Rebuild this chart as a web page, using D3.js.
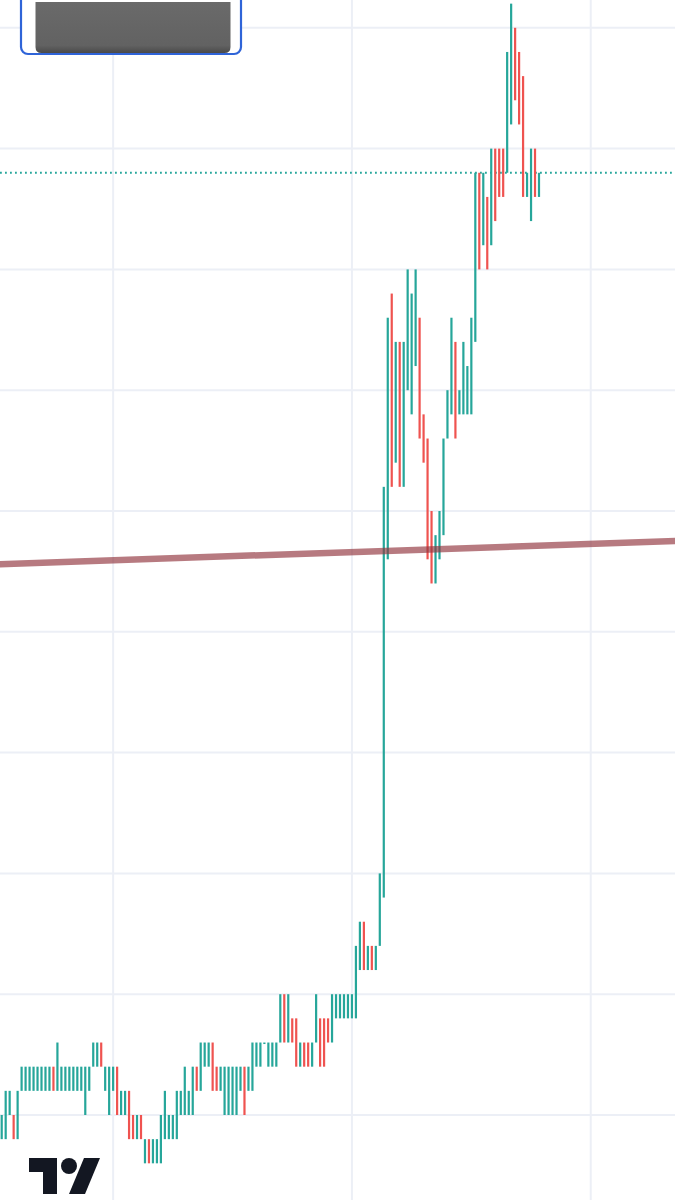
<!DOCTYPE html>
<html>
<head>
<meta charset="utf-8">
<script src="https://cdn.jsdelivr.net/npm/d3@7"></script>
<style>
  html, body { margin: 0; padding: 0; background: #ffffff; }
  svg { display: block; }
</style>
</head>
<body>
<script>
// ---- Data (price expressed in ticks; one grid step = 5 ticks) ----
const barIndex = d3.range(136);
const highs = [
  0,1,1,0,1,2,2,2,2,2,
  2,2,2,2,3,2,2,2,2,2,
  2,2,2,3,3,3,2,2,2,2,
  1,1,1,0,0,0,-1,-1,-1,-1,
  0,1,0,0,1,1,2,1,2,2,
  3,3,3,3,2,2,2,2,2,2,
  2,2,2,3,3,3,3,3,3,3,
  5,5,5,4,4,3,3,3,3,5,
  4,4,4,5,5,5,5,5,5,7,
  8,8,7,7,7,10,26,33,34,32,
  32,32,35,34,35,33,29,28,25,24,
  25,28,30,33,32,30,32,31,33,39,
  39,39,38,40,40,40,40,44,46,45,
  44,43,39,40,40,39
];
const lows = [
  -1,-1,0,-1,-1,1,1,1,1,1,
  1,1,1,1,1,1,1,1,1,1,
  1,0,1,2,2,2,1,0,1,0,
  0,0,-1,-1,-1,-1,-2,-2,-2,-2,
  -2,-1,-1,-1,-1,0,0,0,0,1,
  1,2,2,1,1,1,0,0,0,0,
  1,0,1,1,2,2,3,2,2,2,
  3,3,3,3,2,2,2,2,2,3,
  2,2,3,3,4,4,4,4,4,4,
  6,6,6,6,6,7,9,23,26,27,
  26,26,30,29,31,28,27,23,22,22,
  23,24,28,29,28,29,29,29,29,32,
  35,36,35,36,37,38,38,39,41,42,
  41,38,38,37,38,38
];
// 1 = up bar (teal), 0 = down bar (red)
const upBars = [
  1,1,1,0,1,1,1,1,1,1,
  1,1,1,0,1,1,1,1,1,1,
  1,1,1,1,1,0,1,1,1,0,
  1,1,0,0,1,0,1,0,1,1,
  1,1,1,1,1,1,1,1,1,0,
  1,1,1,0,0,1,1,1,1,1,
  1,0,1,1,1,1,1,1,1,1,
  1,0,1,0,0,1,0,0,1,1,
  0,0,0,1,1,1,1,1,1,1,
  1,0,1,0,1,1,1,1,0,1,
  0,1,1,1,1,0,0,0,0,1,
  1,1,1,1,0,1,1,1,1,1,
  0,1,0,1,0,0,0,1,1,0,
  0,0,1,1,0,1
];
const lastPrice = 39;
const yGridLevels = [45, 40, 35, 30, 25, 20, 15, 10, 5, 0];
const xGridIndex = [28, 88, 148];
const trendIndex = [-0.5, 169.5];
const trendValue = [22.8, 23.76];

// ---- Layout ----
const W = 675, H = 1200;
const UP = "#26a69a", DOWN = "#ef5350";

const x = d3.scaleLinear().domain([0, 135]).range([1.7, 539]);
const y = d3.scaleLinear().domain([0, 45]).range([1115, 27.8]);

const svg = d3.select("body").append("svg")
  .attr("width", W).attr("height", H)
  .style("background", "#ffffff");

// grid
const grid = svg.append("g");
grid.selectAll("line.h").data(yGridLevels).join("line")
  .attr("class", "h")
  .attr("x1", 0).attr("x2", W)
  .attr("y1", d => y(d)).attr("y2", d => y(d))
  .attr("stroke", "#eceff6").attr("stroke-width", 2);
grid.selectAll("line.v").data(xGridIndex).join("line")
  .attr("class", "v")
  .attr("x1", d => x(d)).attr("x2", d => x(d))
  .attr("y1", 0).attr("y2", H)
  .attr("stroke", "#eceff6").attr("stroke-width", 2);

// last price dotted line
svg.append("line")
  .attr("x1", 0).attr("x2", W)
  .attr("y1", y(lastPrice)).attr("y2", y(lastPrice))
  .attr("stroke", UP).attr("stroke-width", 1.8)
  .attr("stroke-dasharray", "1.8 3.2");

// bars (high-low)
const bars = barIndex.map(i => ({ i, hi: highs[i], lo: lows[i], up: upBars[i] }));
svg.append("g").selectAll("rect").data(bars).join("rect")
  .attr("x", d => x(d.i) - 1.1)
  .attr("width", 2.2)
  .attr("y", d => y(d.hi))
  .attr("height", d => Math.max(1.5, y(d.lo) - y(d.hi)))
  .attr("fill", d => d.up ? UP : DOWN);

// trend line
const trend = trendIndex.map((t, k) => [t, trendValue[k]]);
svg.append("path")
  .attr("d", d3.line().x(d => x(d[0])).y(d => y(d[1]))(trend))
  .attr("stroke", "rgba(145,50,60,0.65)")
  .attr("stroke-width", 6.5)
  .attr("fill", "none");

// symbol label box (redacted)
svg.append("rect")
  .attr("x", 21).attr("y", -12).attr("width", 220).attr("height", 66)
  .attr("rx", 7).attr("fill", "#ffffff")
  .attr("stroke", "#2f64d8").attr("stroke-width", 2.2);
const defs = svg.append("defs");
const gr = defs.append("linearGradient").attr("id", "gbox")
  .attr("x1", 0).attr("y1", 0).attr("x2", 0).attr("y2", 1);
gr.append("stop").attr("offset", "0%").attr("stop-color", "#6a6a6a");
gr.append("stop").attr("offset", "85%").attr("stop-color", "#626262");
gr.append("stop").attr("offset", "100%").attr("stop-color", "#4a4a4a");
svg.append("path")
  .attr("d", "M35.5,2 L230.5,2 L230.5,47 Q230.5,53 224.5,53 L41.5,53 Q35.5,53 35.5,47 Z")
  .attr("fill", "url(#gbox)");

// TradingView logo
const logo = svg.append("g").attr("transform", "translate(29,1150) scale(2)")
  .attr("fill", "#131722");
logo.append("path").attr("d", "M14 22H7V11H0V4h14v18z");
logo.append("path").attr("d", "M28 22h-8l7.5-18h8L28 22z");
logo.append("circle").attr("cx", 20).attr("cy", 8).attr("r", 4);
</script>
</body>
</html>
